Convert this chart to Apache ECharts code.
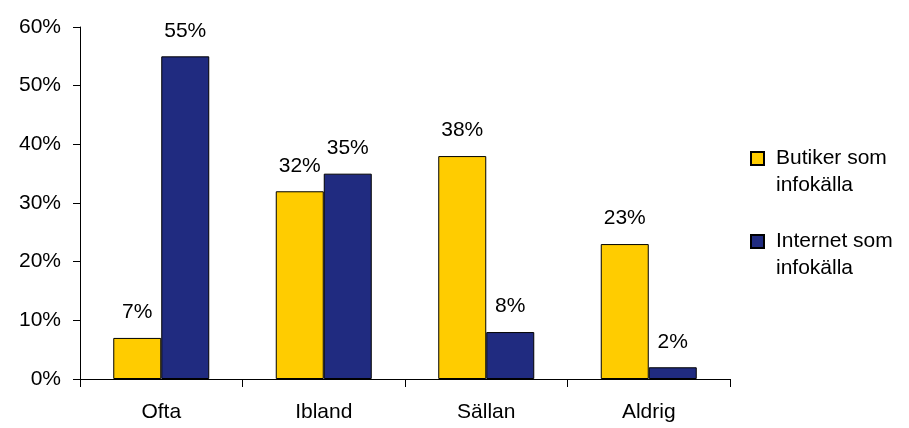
<!DOCTYPE html>
<html>
<head>
<meta charset="utf-8">
<script src="https://cdn.jsdelivr.net/npm/echarts@6/dist/echarts.min.js"></script>
<style>
  html, body { margin: 0; padding: 0; background: #fff; }
  #chart { width: 909px; height: 428px; }
</style>
</head>
<body>
<div id="chart"></div>
<script>
// How often shops vs. the internet are used as a source of information
const categories = ['Ofta', 'Ibland', 'Sällan', 'Aldrig'];
const butikerValues = [7, 32, 38, 23];
const internetValues = [55, 35, 8, 2];
const seriesNames = ['Butiker som infokälla', 'Internet som infokälla'];
const legendLabels = {
  'Butiker som infokälla': 'Butiker som\ninfokälla',
  'Internet som infokälla': 'Internet som\ninfokälla'
};
const yTicks = { min: 0, max: 60, interval: 10 };

const FONT = '"Liberation Sans", Arial, sans-serif';
const TEXT_SIZE = 21;

const chart = echarts.init(document.getElementById('chart'), null, { renderer: 'canvas' });

const barLabel = {
  show: true,
  position: 'top',
  distance: 15,
  formatter: '{c}%',
  color: '#000',
  fontFamily: FONT,
  fontSize: TEXT_SIZE
};

chart.setOption({
  animation: false,
  backgroundColor: '#fff',
  textStyle: { fontFamily: FONT },
  grid: { left: 80, right: 179, top: 27, bottom: 49, containLabel: false },
  legend: {
    orient: 'vertical',
    left: 750,
    top: 118,
    padding: 0,
    itemGap: 2,
    itemWidth: 13,
    itemHeight: 13,
    icon: 'rect',
    data: seriesNames,
    // leading blank line keeps the swatch level with the first text line
    formatter: name => '\n' + legendLabels[name],
    textStyle: {
      color: '#000',
      fontFamily: FONT,
      fontSize: TEXT_SIZE,
      lineHeight: 27,
      padding: [0, 0, 0, 7]
    }
  },
  xAxis: {
    type: 'category',
    data: categories,
    boundaryGap: true,
    axisLine: { lineStyle: { color: '#000', width: 1 } },
    axisTick: { show: true, length: 8, inside: false, lineStyle: { color: '#000' } },
    axisLabel: { color: '#000', fontFamily: FONT, fontSize: TEXT_SIZE, margin: 23 },
    splitLine: { show: false }
  },
  yAxis: {
    type: 'value',
    min: yTicks.min,
    max: yTicks.max,
    interval: yTicks.interval,
    axisLine: { show: true, lineStyle: { color: '#000', width: 1 } },
    axisTick: { show: true, length: 7, inside: false, lineStyle: { color: '#000' } },
    axisLabel: { color: '#000', fontFamily: FONT, fontSize: TEXT_SIZE, margin: 19, formatter: '{value}%' },
    splitLine: { show: false }
  },
  series: [
    {
      name: seriesNames[0],
      type: 'bar',
      data: butikerValues,
      barWidth: 48,
      barGap: '0%',
      itemStyle: { color: '#FFCC00', borderColor: '#000', borderWidth: 1 },
      label: barLabel
    },
    {
      name: seriesNames[1],
      type: 'bar',
      data: internetValues,
      barWidth: 48,
      barGap: '0%',
      itemStyle: { color: '#202B80', borderColor: '#000', borderWidth: 1 },
      label: barLabel
    }
  ]
});
</script>
</body>
</html>
